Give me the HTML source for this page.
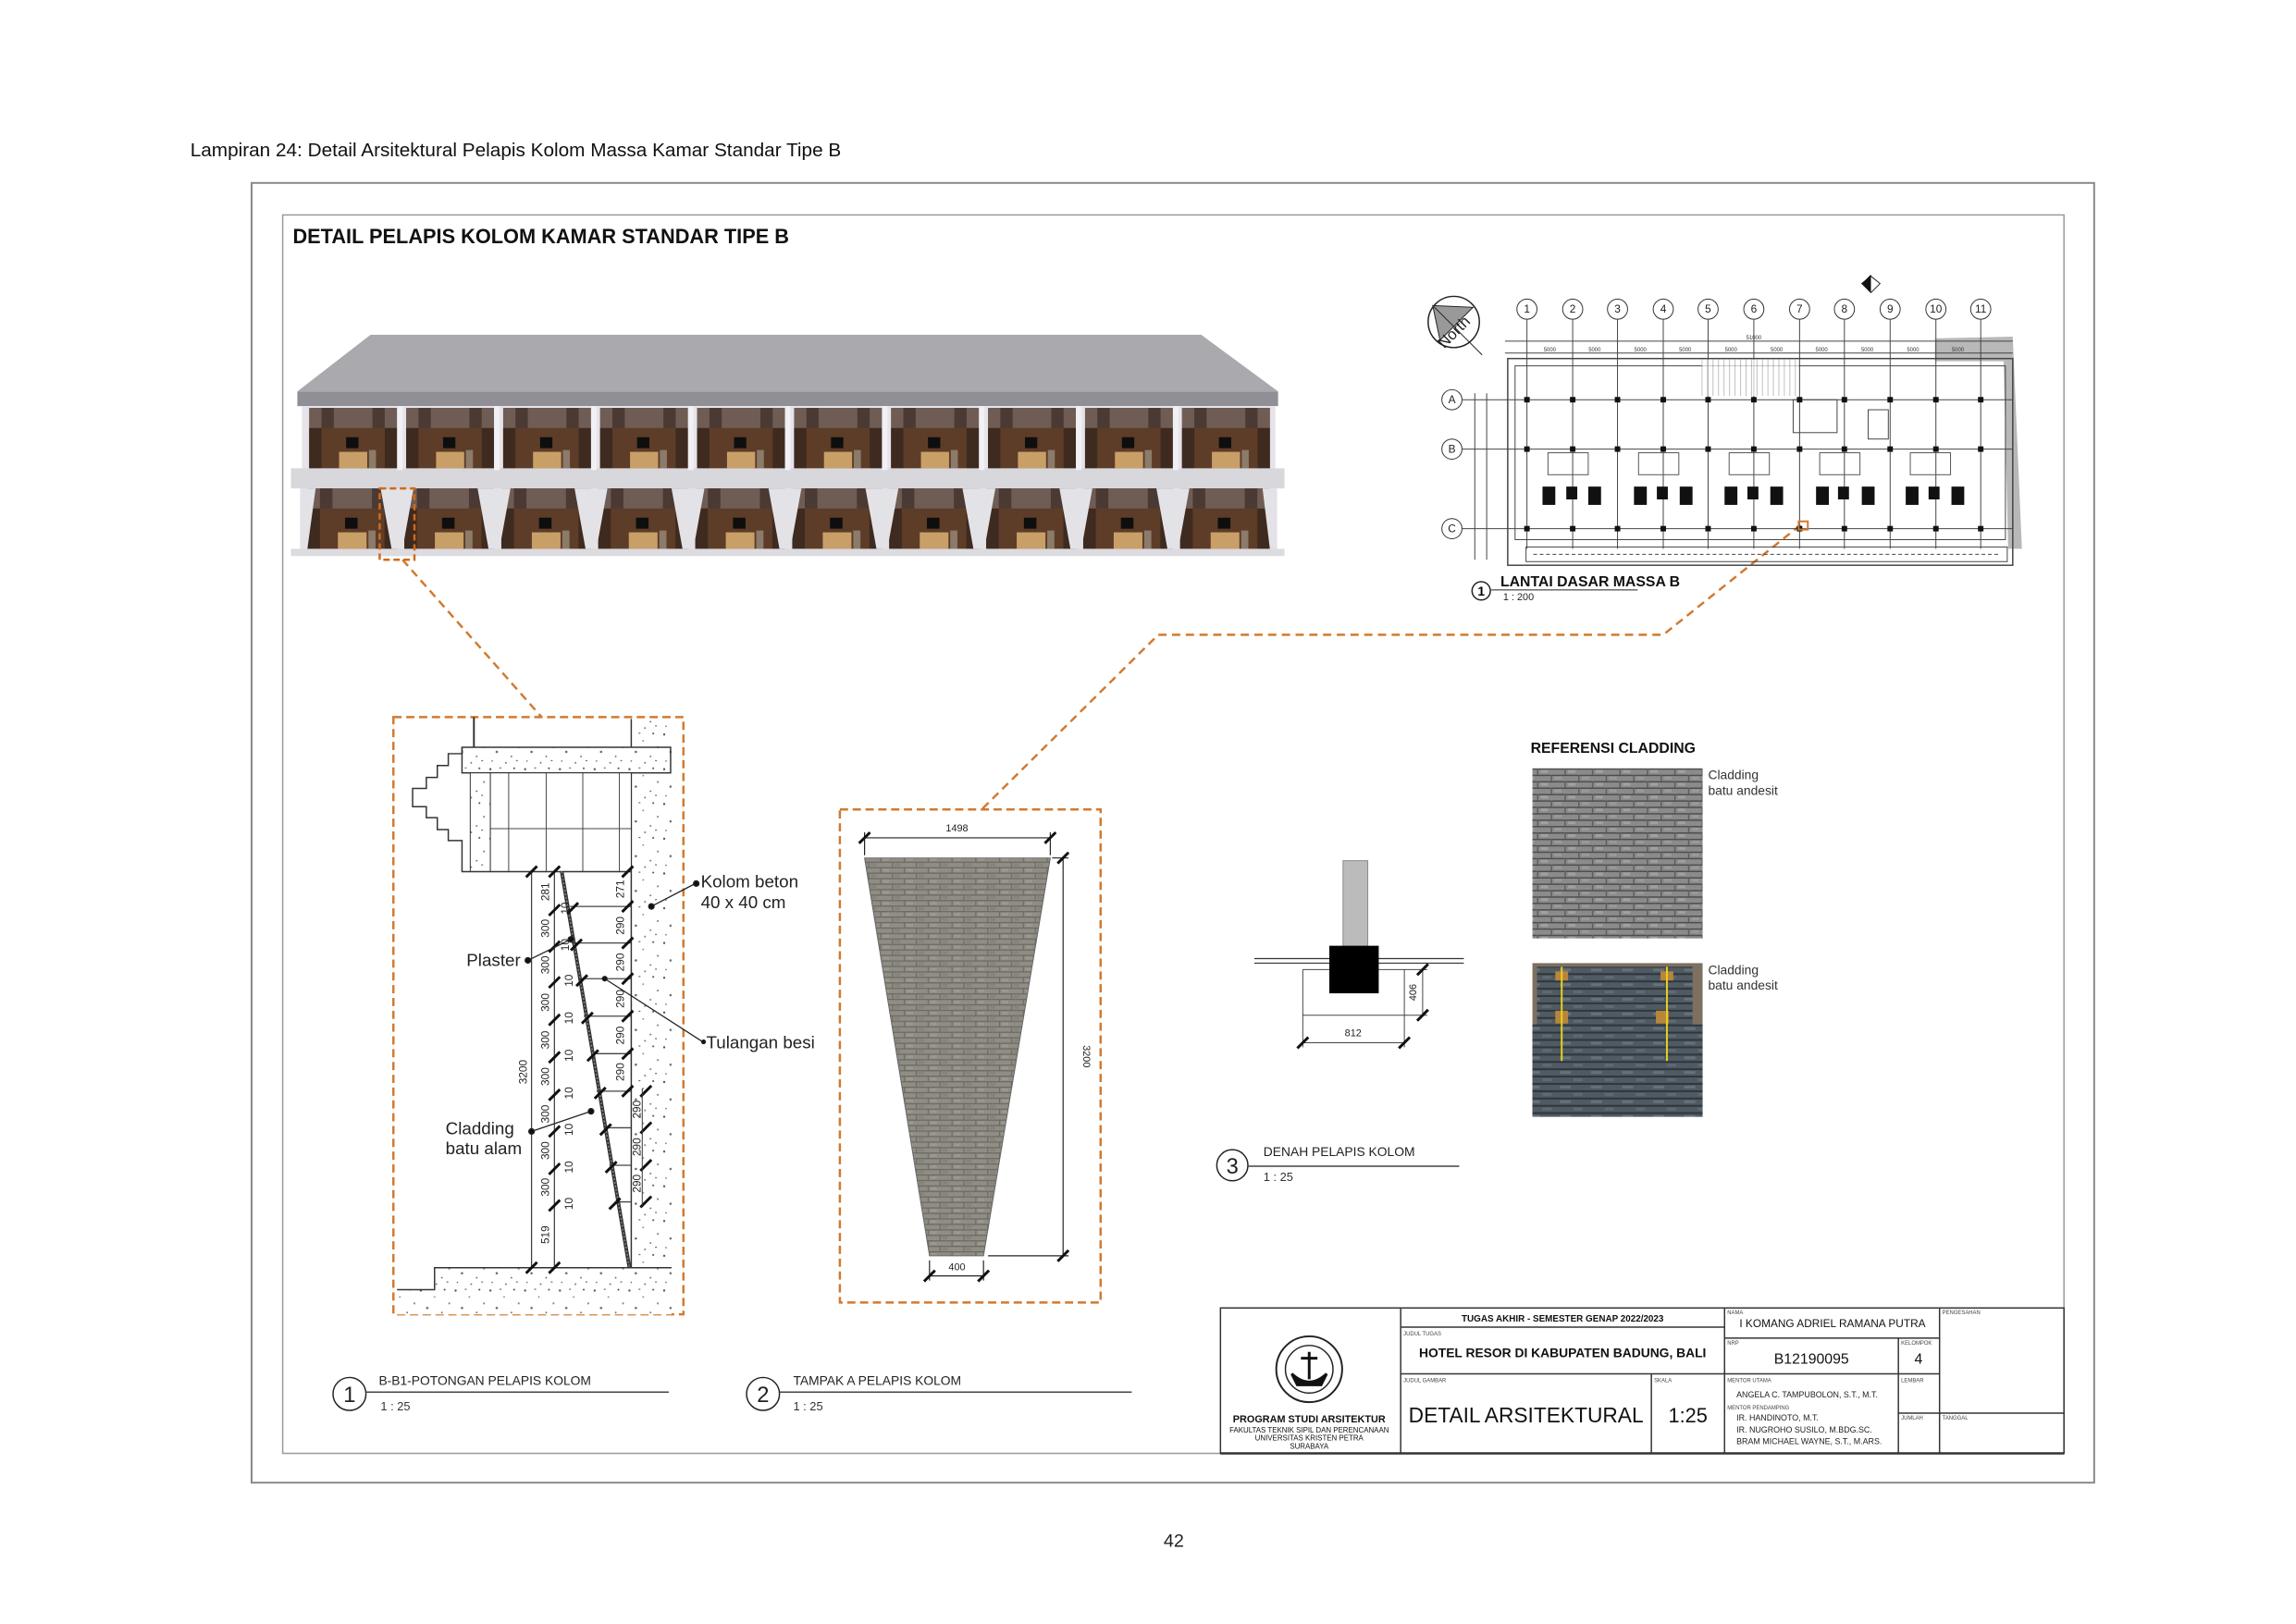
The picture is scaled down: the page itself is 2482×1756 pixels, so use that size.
<!DOCTYPE html>
<html><head><meta charset="utf-8">
<style>
html,body{margin:0;padding:0;background:#fff;}
svg{display:block;}
text{font-family:"Liberation Sans",sans-serif;}
</style></head>
<body>
<svg width="2482" height="1756" viewBox="0 0 2482 1756" xmlns="http://www.w3.org/2000/svg">
<defs>
<pattern id="conc" width="38" height="38" patternUnits="userSpaceOnUse">
<rect width="38" height="38" fill="#fff"/>
<circle cx="4" cy="5" r="1.2" fill="#555"/><circle cx="19" cy="12" r="0.9" fill="#777"/>
<circle cx="30" cy="4" r="1" fill="#444"/><circle cx="11" cy="24" r="1.3" fill="#666"/>
<circle cx="27" cy="29" r="0.9" fill="#555"/><circle cx="35" cy="19" r="1.1" fill="#888"/>
<circle cx="6" cy="34" r="0.8" fill="#555"/><circle cx="21" cy="36" r="1" fill="#777"/>
<rect x="14" y="3" width="2" height="1.2" fill="#666"/><rect x="32" y="33" width="2" height="1.2" fill="#666"/>
</pattern>
<pattern id="brick" width="26" height="12" patternUnits="userSpaceOnUse">
<rect width="26" height="12" fill="#8f8d84"/>
<rect x="0" y="0" width="26" height="1.3" fill="#6c6a63"/>
<rect x="0" y="6" width="26" height="1.3" fill="#6c6a63"/>
<rect x="0" y="0" width="1.2" height="6" fill="#6c6a63"/>
<rect x="13" y="6" width="1.2" height="6" fill="#6c6a63"/>
<rect x="3" y="2" width="7" height="3" fill="#9b998f"/><rect x="16" y="8" width="6" height="3" fill="#85837a"/>
</pattern>
<pattern id="brick2" width="30" height="14" patternUnits="userSpaceOnUse">
<rect width="30" height="14" fill="#8b8b8b"/>
<rect x="0" y="0" width="30" height="1.5" fill="#4e4e4e"/>
<rect x="0" y="7" width="30" height="1.5" fill="#4e4e4e"/>
<rect x="0" y="0" width="1.5" height="7" fill="#5e5e5e"/>
<rect x="15" y="7" width="1.5" height="7" fill="#5e5e5e"/>
<rect x="4" y="2" width="8" height="3" fill="#a1a1a1"/><rect x="19" y="9" width="8" height="3" fill="#9a9a9a"/>
</pattern>
<pattern id="slate" width="34" height="16" patternUnits="userSpaceOnUse">
<rect width="34" height="16" fill="#4f5a63"/>
<rect x="0" y="0" width="34" height="2" fill="#2f363c"/>
<rect x="0" y="8" width="34" height="2" fill="#2f363c"/>
<rect x="5" y="3" width="12" height="3" fill="#66717a"/><rect x="20" y="11" width="10" height="3" fill="#5f6a73"/>
</pattern>
<pattern id="hatch" width="6" height="6" patternUnits="userSpaceOnUse">
<rect width="6" height="6" fill="#fff"/><line x1="0" y1="0" x2="0" y2="6" stroke="#888" stroke-width="1.5"/>
</pattern>
<g id="room">
<rect x="0" y="0" width="100" height="66" fill="#5b4336"/>
<rect x="0" y="0" width="100" height="22" fill="#6f5d55"/>
<rect x="0" y="22" width="100" height="44" fill="#5d3d28"/>
<rect x="0" y="22" width="14" height="44" fill="#3f2a1f"/>
<rect x="86" y="22" width="14" height="44" fill="#3f2a1f"/>
<rect x="14" y="0" width="14" height="22" fill="#4a3a33"/>
<rect x="72" y="0" width="14" height="22" fill="#4a3a33"/>
<rect x="42" y="32" width="14" height="12" fill="#0e0e0e"/>
<rect x="34" y="48" width="32" height="18" fill="#c99f68"/>
<rect x="68" y="46" width="8" height="20" fill="#8c7a6a"/>
</g>
<g id="tick"><line x1="-6" y1="6" x2="6" y2="-6" stroke="#111" stroke-width="3"/></g>
</defs>
<g transform="scale(0.989)">
<!-- caption -->
<text x="208" y="171" font-size="21" fill="#111">Lampiran 24: Detail Arsitektural Pelapis Kolom Massa Kamar Standar Tipe B</text>
<!-- frames -->
<rect x="275" y="200" width="2014" height="1421" fill="none" stroke="#888" stroke-width="2"/>
<rect x="309" y="235" width="1947" height="1354" fill="none" stroke="#999" stroke-width="1.5"/>
<text x="320" y="266" font-size="22" font-weight="bold" fill="#111">DETAIL PELAPIS KOLOM  KAMAR STANDAR TIPE B</text>

<!-- BUILDING -->
<polygon points="405,366 1313,366 1397,428 325,428" fill="#a9a9ae"/>
<rect x="325" y="428" width="1072" height="16" fill="#8f8f95"/>
<rect x="330" y="444" width="1064" height="70" fill="#e6e4ea"/>
<g>
<use href="#room" transform="translate(338,446) scale(0.96,1)"/>
<use href="#room" transform="translate(444,446) scale(0.96,1)"/>
<use href="#room" transform="translate(550,446) scale(0.96,1)"/>
<use href="#room" transform="translate(656,446) scale(0.96,1)"/>
<use href="#room" transform="translate(762,446) scale(0.96,1)"/>
<use href="#room" transform="translate(868,446) scale(0.96,1)"/>
<use href="#room" transform="translate(974,446) scale(0.96,1)"/>
<use href="#room" transform="translate(1080,446) scale(0.96,1)"/>
<use href="#room" transform="translate(1186,446) scale(0.96,1)"/>
<use href="#room" transform="translate(1292,446) scale(0.96,1)"/>
</g>
<rect x="318" y="512" width="1086" height="22" fill="#d8d7dc"/>
<rect x="330" y="534" width="1064" height="66" fill="#e3e2e7"/>
<g transform="translate(0,534)">
<use href="#room" transform="translate(336,0) scale(0.98,1)"/>
<use href="#room" transform="translate(442,0) scale(0.98,1)"/>
<use href="#room" transform="translate(548,0) scale(0.98,1)"/>
<use href="#room" transform="translate(654,0) scale(0.98,1)"/>
<use href="#room" transform="translate(760,0) scale(0.98,1)"/>
<use href="#room" transform="translate(866,0) scale(0.98,1)"/>
<use href="#room" transform="translate(972,0) scale(0.98,1)"/>
<use href="#room" transform="translate(1078,0) scale(0.98,1)"/>
<use href="#room" transform="translate(1184,0) scale(0.98,1)"/>
<use href="#room" transform="translate(1290,0) scale(0.98,1)"/>
</g>
<g fill="#e3e2e7">
<polygon points="328,534 345,534 336,600 328,600"/>
<polygon points="416,534 452,534 440,600 428,600"/>
<polygon points="522,534 558,534 546,600 534,600"/>
<polygon points="628,534 664,534 652,600 640,600"/>
<polygon points="734,534 770,534 758,600 746,600"/>
<polygon points="840,534 876,534 864,600 852,600"/>
<polygon points="946,534 982,534 970,600 958,600"/>
<polygon points="1052,534 1088,534 1076,600 1064,600"/>
<polygon points="1158,534 1194,534 1182,600 1170,600"/>
<polygon points="1264,534 1300,534 1288,600 1276,600"/>
<polygon points="1380,534 1396,534 1396,600 1388,600"/>
</g>
<g fill="#f1f0f4">
<rect x="434" y="444" width="6" height="70"/><rect x="540" y="444" width="6" height="70"/><rect x="646" y="444" width="6" height="70"/>
<rect x="752" y="444" width="6" height="70"/><rect x="858" y="444" width="6" height="70"/><rect x="964" y="444" width="6" height="70"/>
<rect x="1070" y="444" width="6" height="70"/><rect x="1176" y="444" width="6" height="70"/><rect x="1282" y="444" width="6" height="70"/>
</g>
<rect x="318" y="600" width="1086" height="8" fill="#dcdbe0"/>
<rect x="415" y="534" width="38" height="78" fill="none" stroke="#d06a1a" stroke-width="2.5" stroke-dasharray="7,4"/>

<!-- connectors -->
<polyline points="440,612 592,784" fill="none" stroke="#d07a30" stroke-width="2.5" stroke-dasharray="9,6"/>
<polyline points="1968,574 1818,694 1266,694 1074,884" fill="none" stroke="#d07a30" stroke-width="2.5" stroke-dasharray="9,6"/>

<!-- PLAN -->
<g stroke="#222" fill="none" stroke-width="1">
<circle cx="1589" cy="352" r="28" stroke-width="1.5"/>
<polygon points="1566,334 1610,336 1574,372" fill="#999"/>
<line x1="1566" y1="334" x2="1620" y2="388"/>
</g>
<text x="1587" y="368" font-size="17" fill="#222" transform="rotate(-45 1589 360)" text-anchor="middle">North</text>
<g stroke="#333" stroke-width="1" fill="#fff">
<circle cx="1669" cy="338" r="11"/><circle cx="1719" cy="338" r="11"/><circle cx="1768" cy="338" r="11"/>
<circle cx="1818" cy="338" r="11"/><circle cx="1867" cy="338" r="11"/><circle cx="1917" cy="338" r="11"/>
<circle cx="1967" cy="338" r="11"/><circle cx="2016" cy="338" r="11"/><circle cx="2066" cy="338" r="11"/>
<circle cx="2116" cy="338" r="11"/><circle cx="2165" cy="338" r="11"/>
<circle cx="1587" cy="437" r="11"/><circle cx="1587" cy="491" r="11"/><circle cx="1587" cy="578" r="11"/>
</g>
<g font-size="12" fill="#222" text-anchor="middle">
<text x="1669" y="342">1</text><text x="1719" y="342">2</text><text x="1768" y="342">3</text><text x="1818" y="342">4</text>
<text x="1867" y="342">5</text><text x="1917" y="342">6</text><text x="1967" y="342">7</text><text x="2016" y="342">8</text>
<text x="2066" y="342">9</text><text x="2116" y="342">10</text><text x="2165" y="342">11</text>
<text x="1587" y="441">A</text><text x="1587" y="495">B</text><text x="1587" y="582">C</text>
</g>
<polygon points="2115,370 2200,368 2210,600 2195,600 2190,395 2115,395" fill="#b8b8b8"/>
<g stroke="#444" stroke-width="1" fill="none">
<line x1="1669" y1="349" x2="1669" y2="600"/><line x1="1719" y1="349" x2="1719" y2="600"/><line x1="1768" y1="349" x2="1768" y2="600"/>
<line x1="1818" y1="349" x2="1818" y2="600"/><line x1="1867" y1="349" x2="1867" y2="600"/><line x1="1917" y1="349" x2="1917" y2="600"/>
<line x1="1967" y1="349" x2="1967" y2="600"/><line x1="2016" y1="349" x2="2016" y2="600"/><line x1="2066" y1="349" x2="2066" y2="600"/>
<line x1="2116" y1="349" x2="2116" y2="600"/><line x1="2165" y1="349" x2="2165" y2="600"/>
<line x1="1598" y1="437" x2="2200" y2="437"/><line x1="1598" y1="491" x2="2200" y2="491"/><line x1="1598" y1="578" x2="2200" y2="578"/>
<line x1="1645" y1="373" x2="2200" y2="373"/><line x1="1645" y1="386" x2="2200" y2="386"/>
<rect x="1648" y="392" width="552" height="226" stroke-width="1.5"/>
<rect x="1656" y="400" width="536" height="190"/>
<line x1="1612" y1="430" x2="1612" y2="612"/><line x1="1625" y1="430" x2="1625" y2="612"/>
<rect x="1960" y="437" width="48" height="36"/><rect x="2042" y="448" width="22" height="32"/>
<rect x="1668" y="598" width="526" height="16"/>
<line x1="1676" y1="606" x2="2186" y2="606" stroke-dasharray="4,3"/>
</g>
<rect x="1860" y="393" width="106" height="40" fill="url(#hatch)" opacity="0.7"/>
<g fill="#111">
<rect x="1666" y="434" width="6" height="6"/><rect x="1716" y="434" width="6" height="6"/><rect x="1765" y="434" width="6" height="6"/>
<rect x="1815" y="434" width="6" height="6"/><rect x="1864" y="434" width="6" height="6"/><rect x="1914" y="434" width="6" height="6"/>
<rect x="1964" y="434" width="6" height="6"/><rect x="2013" y="434" width="6" height="6"/><rect x="2063" y="434" width="6" height="6"/>
<rect x="2113" y="434" width="6" height="6"/><rect x="2162" y="434" width="6" height="6"/>
<rect x="1666" y="488" width="6" height="6"/><rect x="1716" y="488" width="6" height="6"/><rect x="1765" y="488" width="6" height="6"/>
<rect x="1815" y="488" width="6" height="6"/><rect x="1864" y="488" width="6" height="6"/><rect x="1914" y="488" width="6" height="6"/>
<rect x="1964" y="488" width="6" height="6"/><rect x="2013" y="488" width="6" height="6"/><rect x="2063" y="488" width="6" height="6"/>
<rect x="2113" y="488" width="6" height="6"/><rect x="2162" y="488" width="6" height="6"/>
<rect x="1666" y="575" width="6" height="6"/><rect x="1716" y="575" width="6" height="6"/><rect x="1765" y="575" width="6" height="6"/>
<rect x="1815" y="575" width="6" height="6"/><rect x="1864" y="575" width="6" height="6"/><rect x="1914" y="575" width="6" height="6"/>
<rect x="1964" y="575" width="6" height="6"/><rect x="2013" y="575" width="6" height="6"/><rect x="2063" y="575" width="6" height="6"/>
<rect x="2113" y="575" width="6" height="6"/><rect x="2162" y="575" width="6" height="6"/>
<rect x="1686" y="532" width="14" height="20"/><rect x="1736" y="532" width="14" height="20"/>
<rect x="1786" y="532" width="14" height="20"/><rect x="1836" y="532" width="14" height="20"/>
<rect x="1885" y="532" width="14" height="20"/><rect x="1935" y="532" width="14" height="20"/>
<rect x="1985" y="532" width="14" height="20"/><rect x="2035" y="532" width="14" height="20"/>
<rect x="2083" y="532" width="14" height="20"/><rect x="2133" y="532" width="14" height="20"/>
<rect x="1712" y="532" width="12" height="14"/><rect x="1811" y="532" width="12" height="14"/>
<rect x="1910" y="532" width="12" height="14"/><rect x="2009" y="532" width="12" height="14"/><rect x="2108" y="532" width="12" height="14"/>
</g>
<g stroke="#555" fill="none" stroke-width="1">
<rect x="1692" y="495" width="44" height="24"/><rect x="1791" y="495" width="44" height="24"/>
<rect x="1890" y="495" width="44" height="24"/><rect x="1989" y="495" width="44" height="24"/><rect x="2088" y="495" width="44" height="24"/>
</g>
<g font-size="6" fill="#333" text-anchor="middle">
<text x="1917" y="371">51000</text>
<text x="1694" y="384">5000</text><text x="1743" y="384">5000</text><text x="1793" y="384">5000</text><text x="1842" y="384">5000</text>
<text x="1892" y="384">5000</text><text x="1942" y="384">5000</text><text x="1991" y="384">5000</text><text x="2041" y="384">5000</text>
<text x="2091" y="384">5000</text><text x="2140" y="384">5000</text>
</g>
<polygon points="2045,302 2055,310 2045,320 2035,310" fill="#fff" stroke="#222"/>
<polygon points="2035,310 2045,300 2045,320" fill="#111"/>
<rect x="1966" y="570" width="10" height="9" fill="none" stroke="#d07a30" stroke-width="2"/>
<circle cx="1619" cy="646" r="10" fill="#fff" stroke="#222" stroke-width="1.5"/>
<text x="1619" y="651" font-size="14" font-weight="bold" text-anchor="middle">1</text>
<text x="1640" y="641" font-size="16" font-weight="bold" fill="#111">LANTAI DASAR MASSA B</text>
<line x1="1630" y1="645" x2="1790" y2="645" stroke="#222" stroke-width="1"/>
<text x="1643" y="656" font-size="11" fill="#222">1 : 200</text>

<!-- SECTION DETAIL -->
<rect x="430" y="784" width="317" height="653" fill="none" stroke="#d07a30" stroke-width="2.5" stroke-dasharray="9,5"/>
<rect x="690" y="786" width="44" height="600" fill="url(#conc)"/>
<line x1="690" y1="786" x2="690" y2="1386" stroke="#333" stroke-width="1.5"/>
<rect x="505" y="817" width="228" height="28" fill="url(#conc)" stroke="#333" stroke-width="1.5"/>
<rect x="514" y="845" width="22" height="108" fill="url(#conc)" stroke="#333" stroke-width="1"/>
<rect x="536" y="845" width="154" height="108" fill="#fff" stroke="#333" stroke-width="1"/>
<g stroke="#444" stroke-width="1">
<line x1="556" y1="845" x2="556" y2="953"/><line x1="597" y1="845" x2="597" y2="953"/>
<line x1="637" y1="845" x2="637" y2="953"/><line x1="677" y1="845" x2="677" y2="953"/>
<line x1="536" y1="906" x2="690" y2="906"/>
</g>
<polyline points="505,817 505,824 490,824 490,837 478,837 478,850 466,850 466,862 451,862 451,882 466,882 466,894 478,894 478,907 490,907 490,919 505,919 505,953 690,953" fill="none" stroke="#333" stroke-width="1.5"/>
<line x1="518" y1="784" x2="518" y2="817" stroke="#333" stroke-width="2"/>
<g stroke="#444" stroke-width="1.3">
<line x1="581" y1="953" x2="581" y2="1386"/><line x1="606" y1="953" x2="606" y2="1386"/>
<line x1="623" y1="991" x2="690" y2="991"/><line x1="625" y1="1031" x2="690" y2="1031"/><line x1="632" y1="1070" x2="690" y2="1070"/>
<line x1="638" y1="1111" x2="690" y2="1111"/><line x1="646" y1="1152" x2="690" y2="1152"/><line x1="652" y1="1193" x2="690" y2="1193"/>
<line x1="660" y1="1233" x2="690" y2="1233"/><line x1="666" y1="1274" x2="690" y2="1274"/><line x1="672" y1="1314" x2="690" y2="1314"/>
</g>
<line x1="614" y1="953" x2="688" y2="1386" stroke="#333" stroke-width="4"/>
<line x1="614" y1="953" x2="688" y2="1386" stroke="#888" stroke-width="1.5" stroke-dasharray="2,2"/>
<rect x="475" y="1386" width="259" height="51" fill="url(#conc)"/>
<rect x="434" y="1410" width="41" height="27" fill="url(#conc)"/>
<polyline points="434,1410 475,1410 475,1386 734,1386" fill="none" stroke="#333" stroke-width="1.5"/>
<g>
<use href="#tick" x="581" y="953"/><use href="#tick" x="606" y="953"/><use href="#tick" x="686" y="953"/>
<use href="#tick" x="606" y="995"/><use href="#tick" x="626" y="993"/><use href="#tick" x="686" y="991"/>
<use href="#tick" x="606" y="1035"/><use href="#tick" x="630" y="1033"/><use href="#tick" x="686" y="1031"/>
<use href="#tick" x="606" y="1074"/><use href="#tick" x="636" y="1072"/><use href="#tick" x="686" y="1070"/>
<use href="#tick" x="606" y="1115"/><use href="#tick" x="642" y="1113"/><use href="#tick" x="686" y="1111"/>
<use href="#tick" x="606" y="1156"/><use href="#tick" x="648" y="1154"/><use href="#tick" x="686" y="1152"/>
<use href="#tick" x="606" y="1197"/><use href="#tick" x="656" y="1195"/><use href="#tick" x="686" y="1193"/><use href="#tick" x="706" y="1193"/>
<use href="#tick" x="606" y="1237"/><use href="#tick" x="662" y="1235"/><use href="#tick" x="706" y="1233"/>
<use href="#tick" x="606" y="1278"/><use href="#tick" x="668" y="1276"/><use href="#tick" x="706" y="1274"/>
<use href="#tick" x="606" y="1318"/><use href="#tick" x="672" y="1316"/><use href="#tick" x="706" y="1314"/>
<use href="#tick" x="581" y="1386"/><use href="#tick" x="606" y="1386"/>
</g>
<line x1="702" y1="1190" x2="702" y2="1318" stroke="#333" stroke-width="1"/>
<g font-size="12" fill="#222">
<text transform="translate(576,1172) rotate(-90)" text-anchor="middle">3200</text>
<text transform="translate(600,975) rotate(-90)" text-anchor="middle">281</text>
<text transform="translate(600,1015) rotate(-90)" text-anchor="middle">300</text>
<text transform="translate(600,1055) rotate(-90)" text-anchor="middle">300</text>
<text transform="translate(600,1096) rotate(-90)" text-anchor="middle">300</text>
<text transform="translate(600,1137) rotate(-90)" text-anchor="middle">300</text>
<text transform="translate(600,1177) rotate(-90)" text-anchor="middle">300</text>
<text transform="translate(600,1218) rotate(-90)" text-anchor="middle">300</text>
<text transform="translate(600,1258) rotate(-90)" text-anchor="middle">300</text>
<text transform="translate(600,1298) rotate(-90)" text-anchor="middle">300</text>
<text transform="translate(600,1350) rotate(-90)" text-anchor="middle">519</text>
<text transform="translate(682,972) rotate(-90)" text-anchor="middle">271</text>
<text transform="translate(682,1012) rotate(-90)" text-anchor="middle">290</text>
<text transform="translate(682,1052) rotate(-90)" text-anchor="middle">290</text>
<text transform="translate(682,1092) rotate(-90)" text-anchor="middle">290</text>
<text transform="translate(682,1132) rotate(-90)" text-anchor="middle">290</text>
<text transform="translate(682,1172) rotate(-90)" text-anchor="middle">290</text>
<text transform="translate(700,1213) rotate(-90)" text-anchor="middle">290</text>
<text transform="translate(700,1254) rotate(-90)" text-anchor="middle">290</text>
<text transform="translate(700,1294) rotate(-90)" text-anchor="middle">290</text>
<text transform="translate(622,993) rotate(-90)" text-anchor="middle">10</text>
<text transform="translate(622,1033) rotate(-90)" text-anchor="middle">10</text>
<text transform="translate(626,1072) rotate(-90)" text-anchor="middle">10</text>
<text transform="translate(626,1113) rotate(-90)" text-anchor="middle">10</text>
<text transform="translate(626,1154) rotate(-90)" text-anchor="middle">10</text>
<text transform="translate(626,1195) rotate(-90)" text-anchor="middle">10</text>
<text transform="translate(626,1235) rotate(-90)" text-anchor="middle">10</text>
<text transform="translate(626,1276) rotate(-90)" text-anchor="middle">10</text>
<text transform="translate(626,1316) rotate(-90)" text-anchor="middle">10</text>
</g>
<g stroke="#222" stroke-width="1.3" fill="#111">
<line x1="712" y1="991" x2="760" y2="966"/><circle cx="712" cy="991" r="3"/><circle cx="761" cy="966" r="3"/>
<line x1="577" y1="1050" x2="624" y2="1027"/><circle cx="577" cy="1050" r="3"/><circle cx="624" cy="1027" r="3"/>
<line x1="661" y1="1070" x2="768" y2="1139"/><circle cx="661" cy="1070" r="2.5"/><circle cx="769" cy="1139" r="2"/>
<line x1="581" y1="1237" x2="646" y2="1215"/><circle cx="581" cy="1237" r="3"/><circle cx="646" cy="1215" r="3"/>
</g>
<g font-size="19" fill="#222">
<text x="766" y="970">Kolom beton</text><text x="766" y="993">40 x 40 cm</text>
<text x="569" y="1056" text-anchor="end">Plaster</text>
<text x="772" y="1146">Tulangan besi</text>
<text x="487" y="1240">Cladding</text><text x="487" y="1262">batu alam</text>
</g>
<circle cx="382" cy="1524" r="18" fill="#fff" stroke="#222" stroke-width="1.5"/>
<text x="382" y="1533" font-size="24" text-anchor="middle" fill="#222">1</text>
<text x="414" y="1514" font-size="14" fill="#222">B-B1-POTONGAN PELAPIS KOLOM</text>
<line x1="400" y1="1522" x2="731" y2="1522" stroke="#444" stroke-width="1.5"/>
<text x="416" y="1542" font-size="13" fill="#333">1 : 25</text>

<!-- ELEVATION -->
<rect x="918" y="885" width="285" height="539" fill="none" stroke="#d07a30" stroke-width="2.5" stroke-dasharray="9,5"/>
<polygon points="945,938 1148,938 1075,1373 1016,1373" fill="url(#brick)" stroke="#666" stroke-width="1"/>
<g stroke="#222" stroke-width="1.2">
<line x1="945" y1="916" x2="1148" y2="916"/><line x1="945" y1="910" x2="945" y2="935"/><line x1="1148" y1="910" x2="1148" y2="935"/>
<line x1="1150" y1="938" x2="1168" y2="938"/><line x1="1162" y1="938" x2="1162" y2="1373"/><line x1="1080" y1="1373" x2="1168" y2="1373"/>
<line x1="1016" y1="1378" x2="1016" y2="1400"/><line x1="1075" y1="1378" x2="1075" y2="1400"/><line x1="1016" y1="1395" x2="1075" y2="1395"/>
</g>
<g><use href="#tick" x="945" y="916"/><use href="#tick" x="1148" y="916"/><use href="#tick" x="1162" y="938"/><use href="#tick" x="1162" y="1373"/><use href="#tick" x="1016" y="1395"/><use href="#tick" x="1075" y="1395"/></g>
<g font-size="11" fill="#222" text-anchor="middle">
<text x="1046" y="909">1498</text><text x="1046" y="1389">400</text>
<text transform="translate(1184,1155) rotate(90)">3200</text>
</g>
<circle cx="834" cy="1524" r="18" fill="#fff" stroke="#222" stroke-width="1.5"/>
<text x="834" y="1533" font-size="24" text-anchor="middle" fill="#222">2</text>
<text x="867" y="1514" font-size="14" fill="#222">TAMPAK A PELAPIS KOLOM</text>
<line x1="852" y1="1522" x2="1237" y2="1522" stroke="#444" stroke-width="1.5"/>
<text x="867" y="1542" font-size="13" fill="#333">1 : 25</text>

<!-- PLAN DETAIL -->
<rect x="1468" y="941" width="27" height="94" fill="#bbb" stroke="#888"/>
<g stroke="#333" stroke-width="1.2"><line x1="1371" y1="1048" x2="1600" y2="1048"/><line x1="1371" y1="1053" x2="1600" y2="1053"/></g>
<rect x="1453" y="1034" width="54" height="52" fill="#000"/>
<g stroke="#444" stroke-width="1">
<line x1="1424" y1="1060" x2="1424" y2="1145"/><line x1="1535" y1="1060" x2="1535" y2="1145"/>
<line x1="1424" y1="1060" x2="1453" y2="1060"/><line x1="1507" y1="1060" x2="1560" y2="1060"/>
<line x1="1424" y1="1110" x2="1560" y2="1110"/><line x1="1555" y1="1060" x2="1555" y2="1110"/>
<line x1="1424" y1="1140" x2="1535" y2="1140"/>
</g>
<g><use href="#tick" x="1555" y="1060"/><use href="#tick" x="1555" y="1110"/><use href="#tick" x="1424" y="1140"/><use href="#tick" x="1535" y="1140"/></g>
<text x="1479" y="1133" font-size="11" text-anchor="middle" fill="#222">812</text>
<text transform="translate(1548,1085) rotate(-90)" font-size="11" text-anchor="middle" fill="#222">406</text>
<circle cx="1347" cy="1274" r="17" fill="#fff" stroke="#222" stroke-width="1.5"/>
<text x="1347" y="1283" font-size="24" text-anchor="middle" fill="#222">3</text>
<text x="1381" y="1264" font-size="14" fill="#222">DENAH PELAPIS KOLOM</text>
<line x1="1364" y1="1275" x2="1595" y2="1275" stroke="#444" stroke-width="1.5"/>
<text x="1381" y="1291" font-size="13" fill="#333">1 : 25</text>

<!-- REFERENSI -->
<text x="1673" y="823" font-size="16" font-weight="bold" fill="#111">REFERENSI CLADDING</text>
<rect x="1675" y="840" width="186" height="186" fill="url(#brick2)"/>
<text x="1867" y="852" font-size="14" fill="#333">Cladding</text><text x="1867" y="869" font-size="14" fill="#333">batu andesit</text>
<rect x="1675" y="1053" width="186" height="168" fill="#7d7060"/>
<rect x="1680" y="1057" width="170" height="70" fill="url(#slate)"/>
<rect x="1675" y="1120" width="186" height="101" fill="url(#slate)"/>
<g fill="#b8863a"><rect x="1700" y="1062" width="14" height="10"/><rect x="1815" y="1062" width="14" height="10"/><rect x="1700" y="1105" width="14" height="14"/><rect x="1810" y="1105" width="14" height="14"/></g>
<g stroke="#e8d020" stroke-width="2"><line x1="1707" y1="1057" x2="1707" y2="1160"/><line x1="1822" y1="1057" x2="1822" y2="1160"/></g>
<text x="1867" y="1065" font-size="14" fill="#333">Cladding</text><text x="1867" y="1082" font-size="14" fill="#333">batu andesit</text>

<!-- TITLE BLOCK -->
<g stroke="#333" stroke-width="1.5" fill="none">
<rect x="1334" y="1430" width="922" height="159"/>
<line x1="1531" y1="1430" x2="1531" y2="1589"/>
<line x1="1885" y1="1430" x2="1885" y2="1589"/>
<line x1="1805" y1="1502" x2="1805" y2="1589"/>
<line x1="2075" y1="1463" x2="2075" y2="1589"/>
<line x1="2120" y1="1430" x2="2120" y2="1589"/>
<line x1="1531" y1="1451" x2="1885" y2="1451"/>
<line x1="1531" y1="1502" x2="2120" y2="1502"/>
<line x1="1885" y1="1463" x2="2120" y2="1463"/>
<line x1="2075" y1="1545" x2="2256" y2="1545"/>
<line x1="1334" y1="1589" x2="2256" y2="1589" stroke-width="2.5"/>
</g>
<circle cx="1431" cy="1497" r="36" fill="none" stroke="#222" stroke-width="2"/>
<circle cx="1431" cy="1497" r="26" fill="none" stroke="#222" stroke-width="1.5"/>
<path d="M1431,1478 L1431,1508 M1422,1485 L1440,1485 M1412,1502 Q1431,1520 1450,1502 L1444,1514 L1418,1514 Z" stroke="#111" stroke-width="3" fill="#111"/>
<g fill="#111" text-anchor="middle">
<text x="1431" y="1555" font-size="11" font-weight="bold">PROGRAM STUDI ARSITEKTUR</text>
<text x="1431" y="1566" font-size="8">FAKULTAS TEKNIK SIPIL DAN PERENCANAAN</text>
<text x="1431" y="1575" font-size="8">UNIVERSITAS KRISTEN PETRA</text>
<text x="1431" y="1584" font-size="8">SURABAYA</text>
<text x="1708" y="1445" font-size="10" font-weight="bold">TUGAS AKHIR - SEMESTER GENAP 2022/2023</text>
<text x="1708" y="1484" font-size="14" font-weight="bold">HOTEL RESOR DI KABUPATEN BADUNG, BALI</text>
<text x="1668" y="1555" font-size="23">DETAIL ARSITEKTURAL</text>
<text x="1845" y="1555" font-size="22">1:25</text>
<text x="2003" y="1451" font-size="12">I KOMANG ADRIEL RAMANA PUTRA</text>
<text x="1980" y="1491" font-size="16">B12190095</text>
<text x="2097" y="1491" font-size="16">4</text>
</g>
<g fill="#444" font-size="6">
<text x="1534" y="1460">JUDUL TUGAS</text><text x="1534" y="1511">JUDUL GAMBAR</text><text x="1808" y="1511">SKALA</text>
<text x="1888" y="1437">NAMA</text><text x="1888" y="1470">NRP</text><text x="2078" y="1470">KELOMPOK</text>
<text x="1888" y="1511">MENTOR UTAMA</text><text x="1888" y="1541">MENTOR PENDAMPING</text>
<text x="2078" y="1511">LEMBAR</text><text x="2078" y="1552">JUMLAH</text><text x="2123" y="1552">TANGGAL</text><text x="2123" y="1437">PENGESAHAN</text>
</g>
<g fill="#222" font-size="9">
<text x="1898" y="1528">ANGELA C. TAMPUBOLON, S.T., M.T.</text>
<text x="1898" y="1553">IR. HANDINOTO, M.T.</text>
<text x="1898" y="1566">IR. NUGROHO SUSILO, M.BDG.SC.</text>
<text x="1898" y="1579">BRAM MICHAEL WAYNE, S.T., M.ARS.</text>
</g>

<text x="1283" y="1691" font-size="20" fill="#222" text-anchor="middle">42</text>
</g>
</svg>
</body></html>
